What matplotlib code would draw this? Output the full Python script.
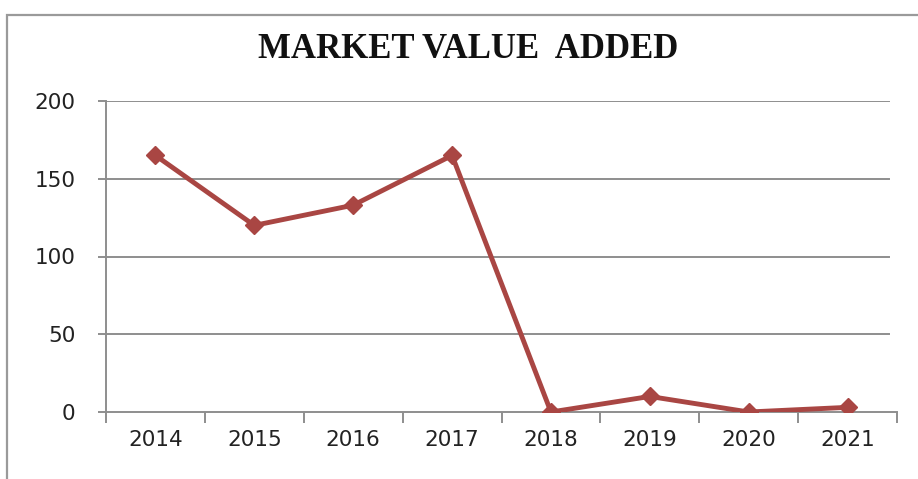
import matplotlib.pyplot as plt
from matplotlib.patches import Rectangle

years = ['2014', '2015', '2016', '2017', '2018', '2019', '2020', '2021']
mva = [165, 120, 133, 165, 0, 10, 0, 3]
y_ticks = [0, 50, 100, 150, 200]

line_color = '#A94643'
grid_color = '#8E8E8E'

fig = plt.figure(figsize=(9.18, 4.79), dpi=100)
fig.patch.set_facecolor('white')

# chart area border (runs off the right and bottom edges)
fig.patches.append(Rectangle((7 / 918, -0.05), 1.2, 1 - 15 / 479 + 0.05,
                             transform=fig.transFigure, fill=False,
                             edgecolor='#9A9A9A', linewidth=1.6))

ax = fig.add_axes([106 / 918, 1 - 412 / 479, 791 / 918, 311 / 479])
x = list(range(len(years)))
ax.plot(x, mva, color=line_color, linewidth=3.5, marker='D', markersize=9.5,
        markerfacecolor=line_color, markeredgecolor=line_color, zorder=3)

ax.set_xlim(-0.5, len(years) - 0.5)
ax.set_ylim(0, 200)
ax.set_yticks(y_ticks)
ax.set_xticks([i - 0.5 for i in range(len(years) + 1)], minor=False)
ax.set_xticklabels([''] * (len(years) + 1))
ax.set_xticks(x, minor=True)
ax.set_xticklabels(years, minor=True)

for v in y_ticks[1:]:
    ax.axhline(v, xmax=0.99, color=grid_color, linewidth=1.4, zorder=1)

for s in ['top', 'right']:
    ax.spines[s].set_visible(False)
ax.spines['left'].set_color(grid_color)
ax.spines['bottom'].set_color(grid_color)
ax.spines['left'].set_linewidth(1.4)
ax.spines['bottom'].set_linewidth(1.4)

ax.tick_params(axis='x', which='major', length=8, width=1.4, color=grid_color, direction='out')
ax.tick_params(axis='x', which='minor', length=0, pad=13, labelsize=15.5, labelcolor='#222222')
ax.tick_params(axis='y', length=6, width=1.4, color=grid_color, pad=16,
               labelsize=15.5, labelcolor='#222222')
for lab in ax.get_xticklabels(minor=True) + ax.get_yticklabels():
    lab.set_fontfamily('DejaVu Sans')

fig.text(468 / 918, 1 - 49 / 479, 'MARKET VALUE  ADDED', ha='center', va='center',
         fontsize=25, fontweight='bold', fontfamily='Liberation Serif', color='#111111')

fig.savefig('out.png', dpi=100, facecolor='white')
